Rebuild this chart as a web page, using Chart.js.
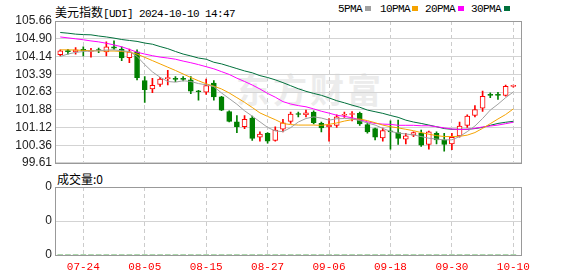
<!DOCTYPE html>
<html>
<head>
<meta charset="utf-8">
<script src="https://cdn.jsdelivr.net/npm/chart.js@4/dist/chart.umd.min.js"></script>
<style>
  body { margin: 0; width: 578px; height: 276px; position: relative; background: #fff; overflow: hidden; }
  canvas { position: absolute; left: 0; }
  .t { position: absolute; white-space: nowrap; color: #000; font: 11px "Liberation Mono", monospace; letter-spacing: -0.6px; line-height: 12px; }
  .cjk { font: 12px "Noto Sans CJK SC", sans-serif; letter-spacing: 0; }
  .sq { position: absolute; width: 6px; height: 5px; }
  #wm { position: absolute; left: 236px; top: 64px; font: bold 34px "Noto Sans CJK SC", sans-serif; color: #ececec; letter-spacing: 3px; }
</style>
</head>
<body>
<div id="wm">东方财富</div>

<div class="t" style="left:55px;top:3px"><span class="cjk">美元指数</span>[UDI] 2024-10-10 14:47</div>
<div class="t" style="left:338px;top:3px">5PMA</div><div class="sq" style="left:365px;top:6px;background:#a0a0a0"></div>
<div class="t" style="left:380px;top:3px">10PMA</div><div class="sq" style="left:412px;top:6px;background:#f5a300"></div>
<div class="t" style="left:425px;top:3px">20PMA</div><div class="sq" style="left:458px;top:6px;background:#ff00ff"></div>
<div class="t" style="left:471px;top:3px">30PMA</div><div class="sq" style="left:504px;top:6px;background:#00703c"></div>
<div class="t cjk" style="left:57px;top:170px">成交量:0</div>

<canvas id="main" width="578" height="173" style="top:0"></canvas>
<canvas id="vol" width="578" height="104" style="top:172px"></canvas>

<script>
// trading days shown (07-19 .. 10-10)
const days = ['07-19','07-22','07-23','07-24','07-25','07-26','07-29','07-30','07-31','08-01',
  '08-02','08-05','08-06','08-07','08-08','08-09','08-12','08-13','08-14','08-15',
  '08-16','08-19','08-20','08-21','08-22','08-23','08-26','08-27','08-28','08-29',
  '08-30','09-02','09-03','09-04','09-05','09-06','09-09','09-10','09-11','09-12',
  '09-13','09-16','09-17','09-18','09-19','09-20','09-23','09-24','09-25','09-26',
  '09-27','09-30','10-01','10-02','10-03','10-04','10-07','10-08','10-09','10-10'];

const opens = [104.22,104.37,104.34,104.45,104.36,104.41,104.34,104.56,104.46,104.10,
  104.34,103.12,102.76,102.95,103.20,103.19,103.19,103.15,102.65,102.62,
  103.01,102.42,101.80,101.36,101.15,101.52,100.70,100.87,100.56,101.04,
  101.38,101.68,101.66,101.77,101.29,101.15,101.21,101.64,101.67,101.72,
  101.24,101.07,100.67,100.96,100.90,100.62,100.79,100.87,100.39,100.87,
  100.59,100.42,100.76,101.21,101.63,101.94,102.53,102.51,102.48,102.87];
const highs = [104.43,104.45,104.53,104.56,104.49,104.50,104.77,104.81,104.56,104.46,
  104.43,103.29,103.21,103.26,103.55,103.29,103.29,103.29,102.70,103.18,
  103.12,102.45,101.83,101.63,101.63,101.60,100.93,100.90,101.15,101.46,
  101.77,101.77,101.86,101.83,101.35,101.50,101.66,101.77,101.80,101.77,
  101.32,101.09,101.09,101.40,101.43,100.87,100.93,101.01,100.96,100.93,
  100.87,100.87,101.35,101.66,102.05,102.67,102.59,102.62,102.93,102.93];
const lows = [104.17,104.25,104.25,104.17,104.12,104.31,104.17,104.45,103.97,103.88,
  103.15,102.19,102.60,102.87,102.93,103.07,103.10,102.56,102.28,102.53,
  102.28,101.83,101.35,100.90,101.07,100.56,100.53,100.45,100.53,100.93,
  101.29,101.57,101.57,101.27,100.93,100.53,101.12,101.55,101.40,101.21,
  100.87,100.59,100.53,100.19,100.39,100.42,100.73,100.31,100.19,100.42,
  100.11,100.17,100.70,101.12,101.57,101.80,102.39,102.31,102.45,102.84];
const closes = [104.39,104.35,104.43,104.39,104.38,104.40,104.56,104.50,104.08,104.34,
  103.24,102.73,102.91,103.18,103.22,103.17,103.17,102.67,102.64,102.90,
  102.42,101.86,101.38,101.15,101.47,100.65,100.84,100.53,101.01,101.32,
  101.69,101.67,101.74,101.32,101.10,101.21,101.57,101.67,101.70,101.27,
  100.93,100.70,100.98,100.93,100.65,100.76,100.90,100.36,100.93,100.59,
  100.39,100.70,101.18,101.60,101.88,102.45,102.48,102.49,102.87,102.90];

const ma5 = [104.15,104.25,104.32,104.36,104.38,104.39,104.42,104.43,104.39,104.36,
  104.15,103.80,103.49,103.26,103.08,103.05,103.11,103.08,102.99,102.94,
  102.86,102.59,102.35,102.11,101.83,101.60,101.36,101.12,100.97,100.94,
  101.11,101.35,101.50,101.57,101.52,101.43,101.49,101.50,101.49,101.41,
  101.31,101.22,101.08,100.95,100.88,100.84,100.80,100.73,100.66,100.62,
  100.59,100.59,100.73,100.94,101.18,101.50,101.86,102.11,102.39,102.63];
const ma10 = [104.43,104.43,104.42,104.41,104.39,104.39,104.38,104.38,104.36,104.33,
  104.25,104.11,103.97,103.83,103.69,103.55,103.40,103.25,103.11,102.98,
  102.88,102.76,102.59,102.39,102.19,101.97,101.74,101.59,101.45,101.29,
  101.24,101.22,101.22,101.22,101.21,101.25,101.31,101.39,101.45,101.48,
  101.41,101.32,101.22,101.15,101.10,101.04,100.98,100.90,100.83,100.77,
  100.73,100.73,100.74,100.79,100.90,101.08,101.28,101.48,101.67,101.91];
const ma20 = [104.98,104.94,104.90,104.86,104.81,104.77,104.71,104.64,104.56,104.45,
  104.33,104.25,104.18,104.12,104.08,104.03,103.95,103.88,103.80,103.71,
  103.62,103.50,103.38,103.22,103.08,102.93,102.76,102.57,102.41,102.22,
  102.12,102.05,102.00,101.91,101.81,101.73,101.64,101.59,101.53,101.45,
  101.36,101.29,101.26,101.25,101.21,101.21,101.21,101.19,101.19,101.15,
  101.10,101.05,101.03,101.04,101.08,101.14,101.18,101.22,101.28,101.34];
const ma30 = [105.17,105.14,105.10,105.08,105.07,105.02,104.98,104.93,104.87,104.83,
  104.79,104.72,104.67,104.57,104.48,104.36,104.25,104.17,104.08,104.03,
  103.90,103.83,103.73,103.63,103.53,103.45,103.33,103.25,103.15,103.03,
  102.90,102.77,102.66,102.57,102.49,102.38,102.26,102.17,102.07,101.98,
  101.86,101.79,101.72,101.63,101.55,101.43,101.35,101.29,101.22,101.15,
  101.07,101.04,101.04,101.04,101.07,101.12,101.21,101.29,101.34,101.38];

const volume = [0,0,0,0,0,0,0,0,0,0, 0,0,0,0,0,0,0,0,0,0, 0,0,0,0,0,0,0,0,0,0,
  0,0,0,0,0,0,0,0,0,0, 0,0,0,0,0,0,0,0,0,0, 0,0,0,0,0,0,0,0,0,0];

const yTicks = [99.61, 100.36, 101.12, 101.88, 102.63, 103.39, 104.14, 104.90, 105.66];
const volTicks = ['0', '0', '0', '0', '0'];
const tickLabels = ['07-24', '08-05', '08-15', '08-27', '09-06', '09-18', '09-30', '10-10'];

const RED = '#ff0000', GREEN = '#008000';
const up = closes.map((c, i) => c >= opens[i]);
const tickIdx = tickLabels.map(d => days.indexOf(d));

// gray box round the plot area
const frame = {
  id: 'frame',
  beforeDatasetsDraw(chart) {
    const a = chart.chartArea, ctx = chart.ctx;
    ctx.save();
    ctx.strokeStyle = '#999';
    ctx.lineWidth = 1;
    ctx.strokeRect(Math.round(a.left) + 0.5, Math.round(a.top) + 0.5,
      Math.round(a.right - a.left) - 1, Math.round(a.bottom - a.top));
    ctx.restore();
  }
};

function xScale(showLabels) {
  return {
    type: 'linear', min: -0.685, max: 60.13, offset: false,
    grid: { color: '#cccccc', drawTicks: false, offset: false },
    border: { display: false, dash: [4, 3] },
    afterBuildTicks: s => { s.ticks = tickIdx.map(v => ({ value: v })); },
    afterFit: s => { s.height = showLabels ? 21 : 0; },
    ticks: {
      display: showLabels, padding: 5, color: RED, maxRotation: 0, autoSkip: false,
      font: { family: 'Liberation Mono', size: 11 },
      callback: v => days[v]
    }
  };
}

const pts = arr => arr.map((v, i) => ({ x: i, y: v }));
const maLine = (arr, color) => ({
  type: 'line', data: pts(arr), borderColor: color, borderWidth: 1,
  pointRadius: 0, tension: 0, order: 0
});

new Chart(document.getElementById('main'), {
  type: 'bar',
  data: {
    datasets: [
      maLine(ma5, '#a0a0a0'),
      maLine(ma10, '#f5a300'),
      maLine(ma20, '#ff00ff'),
      maLine(ma30, '#00703c'),
      {
        // candle bodies
        data: opens.map((o, i) => ({ x: i, y: [o, closes[i]] })),
        backgroundColor: up.map(u => u ? '#ffffff' : GREEN),
        borderColor: up.map(u => u ? RED : GREEN),
        borderWidth: 1, borderSkipped: false, barThickness: 5,
        minBarLength: 1, grouped: false, order: 1
      },
      {
        // wicks
        data: lows.map((l, i) => ({ x: i, y: [l, highs[i]] })),
        backgroundColor: up.map(u => u ? RED : GREEN),
        borderWidth: 0, barThickness: 1, grouped: false, order: 2
      }
    ]
  },
  options: {
    responsive: false, animation: false,
    layout: { padding: { top: 21, right: 56, bottom: 8, left: 0 } },
    plugins: { legend: { display: false }, tooltip: { enabled: false } },
    scales: {
      x: xScale(false),
      y: {
        min: 99.61, max: 105.66,
        grid: { color: '#d3d3d3', drawTicks: false },
        border: { display: false },
        afterBuildTicks: s => { s.ticks = yTicks.map(v => ({ value: v })); },
        afterFit: s => { s.width = 55; },
        ticks: {
          padding: 3, color: '#222',
          font: { family: 'Liberation Sans', size: 12 },
          callback: v => v.toFixed(2)
        }
      }
    }
  },
  plugins: [frame]
});

new Chart(document.getElementById('vol'), {
  type: 'bar',
  data: {
    datasets: [{
      data: pts(volume), backgroundColor: GREEN, barThickness: 5
    }]
  },
  options: {
    responsive: false, animation: false,
    layout: { padding: { top: 15, right: 56, bottom: 0, left: 0 } },
    plugins: { legend: { display: false }, tooltip: { enabled: false } },
    scales: {
      x: xScale(true),
      y: {
        min: 0, max: 4,
        grid: { color: '#d3d3d3', drawTicks: false },
        border: { display: false },
        afterBuildTicks: s => { s.ticks = volTicks.map((t, i) => ({ value: i })); },
        afterFit: s => { s.width = 55; },
        ticks: {
          padding: 3, color: '#222',
          font: { family: 'Liberation Sans', size: 12 },
          callback: (v, i) => volTicks[i]
        }
      }
    }
  },
  plugins: [frame]
});
</script>
</body>
</html>
